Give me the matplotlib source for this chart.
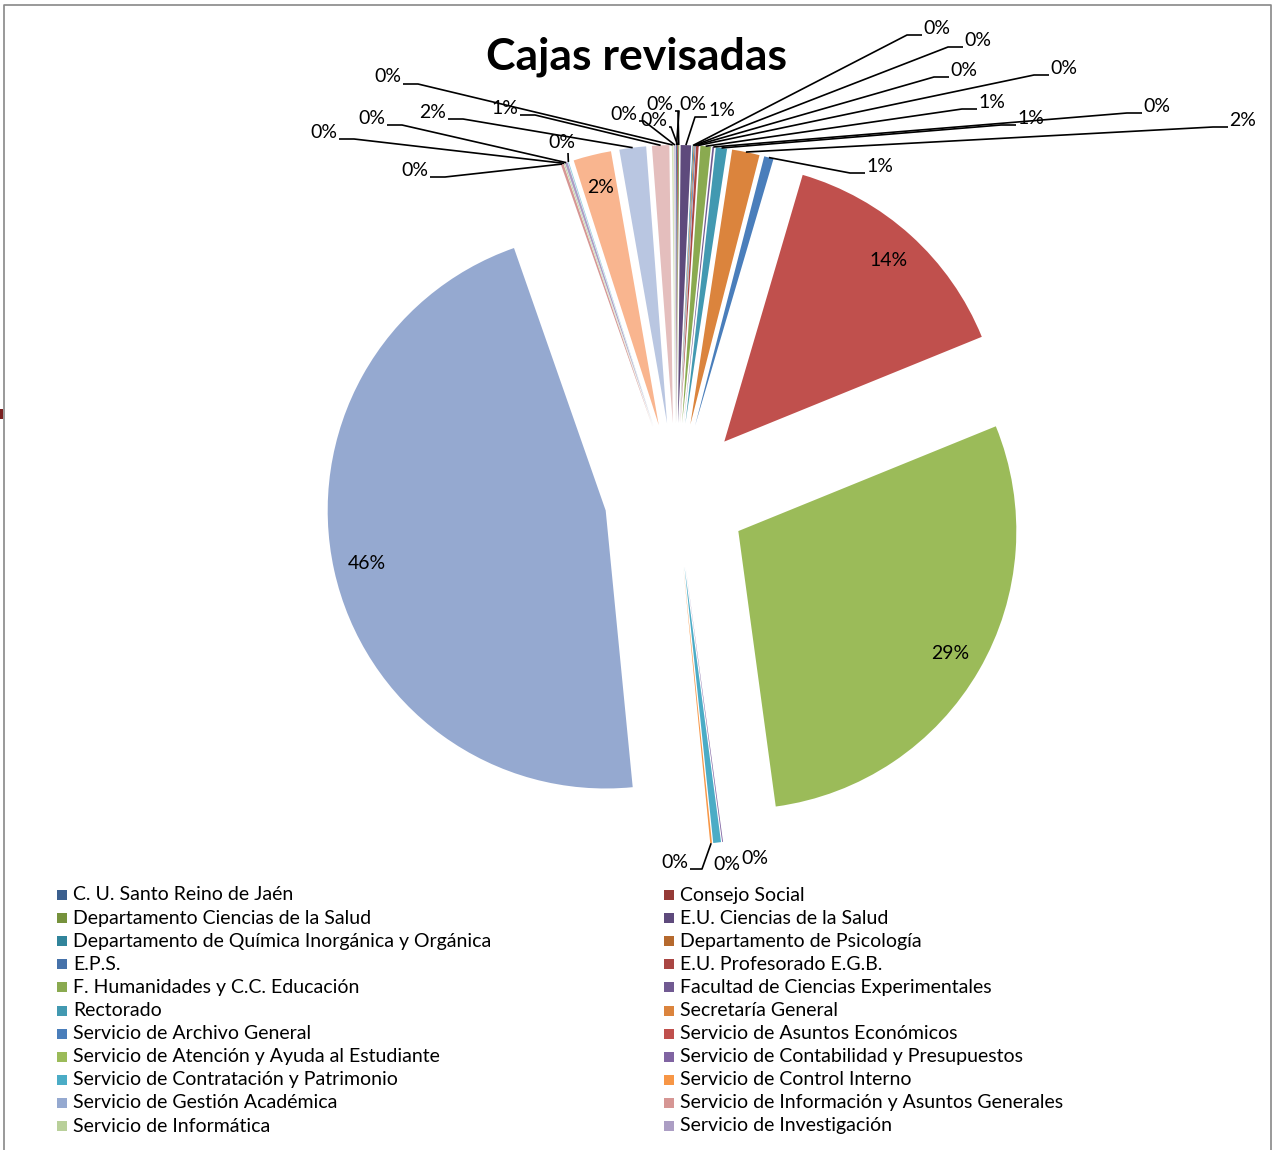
import numpy as np
import matplotlib.pyplot as plt
from matplotlib.patches import Rectangle

plt.rcParams['font.family'] = ['Lato', 'DejaVu Sans']

W, H = 1275, 1150

# share of boxes reviewed per unit (%), clockwise from 12 o'clock
cajas = [0.05, 0.05, 0.05, 0.6, 0.05, 0.05, 0.05, 0.15, 0.6, 0.1, 0.65, 1.6, 0.55,
         14.3, 29.0, 0.05, 0.45, 0.1, 46.2,
         0.15, 0.05, 0.15, 0.05, 2.2, 1.55, 1.0, 0.1, 0.1]

unidades = [
    'C. U. Santo Reino de Jaén', 'Consejo Social',
    'Departamento Ciencias de la Salud', 'E.U. Ciencias de la Salud',
    'Departamento de Química Inorgánica y Orgánica', 'Departamento de Psicología',
    'E.P.S.', 'E.U. Profesorado E.G.B.',
    'F. Humanidades y C.C. Educación', 'Facultad de Ciencias Experimentales',
    'Rectorado', 'Secretaría General',
    'Servicio de Archivo General', 'Servicio de Asuntos Económicos',
    'Servicio de Atención y Ayuda al Estudiante', 'Servicio de Contabilidad y Presupuestos',
    'Servicio de Contratación y Patrimonio', 'Servicio de Control Interno',
    'Servicio de Gestión Académica', 'Servicio de Información y Asuntos Generales',
    'Servicio de Informática', 'Servicio de Investigación',
]

colores = ['#3b5f8e', '#953a36', '#76923c', '#5e4a7c', '#31849b', '#b5692e',
           '#4672aa', '#aa4643', '#8aaa50', '#715a92', '#4299b1', '#db843d',
           '#4a7ebb', '#c0504d', '#9bbb59', '#8064a2', '#4bacc6', '#f79646',
           '#95a9d0', '#d69694', '#b9d09a', '#ac9ec4', '#93cddd', '#f9b58f',
           '#b9c6e1', '#e4bebd', '#d7e4bd', '#ccc1da']

# where each percentage label sits and how its leader line attaches
# side: R = line meets the left edge, L = right edge, B = below, N = no line, I = inside
etiquetas = [
    (660, 104, 'L', 4), (654, 120, 'L', 2), (693, 104, 'R', 0), (722, 110, 'R', 12),
    (937, 28, 'R', 15), (978, 40, 'R', 15), (964, 70, 'R', 15), (1064, 68, 'R', 15),
    (992, 102, 'R', 15), (1157, 106, 'R', 15), (1031, 118, 'R', 15), (1243, 120, 'R', 15),
    (880, 166, 'R', 15),
    (0, 0, 'I', 0), (0, 0, 'I', 0), (755, 858, 'N', 0), (727, 864, 'N', 0), (675, 862, 'L', 12),
    (0, 0, 'I', 0),
    (415, 170, 'L', 15), (324, 132, 'L', 15), (372, 118, 'L', 15), (562, 143, 'B', 0),
    (0, 0, 'I', 0), (433, 112, 'L', 15), (505, 108, 'L', 15), (388, 77, 'L', 15), (624, 114, 'L', 5),
]

fig = plt.figure(figsize=(W / 100, H / 100), dpi=100)
ax = fig.add_axes([0, 0, 1, 1])

cx, cy, r, gap = 676, 495, 278, 72
wedges, _ = ax.pie(cajas, colors=colores, radius=r, center=(cx, H - cy),
                   explode=[gap] * len(cajas), startangle=90, counterclock=False,
                   wedgeprops=dict(linewidth=0), frame=False)
ax.set_xlim(0, W)
ax.set_ylim(0, H)
ax.set_aspect('equal')
ax.axis('off')

total = sum(cajas)
hw = 13
for w, v, (lx, ly, side, stub) in zip(wedges, cajas, etiquetas):
    txt = f'{v / total * 100:.0f}%'
    mid = np.radians((w.theta1 + w.theta2) / 2)
    wx, wy = w.center
    if side == 'I':
        d = 0.88 * r
        ax.text(wx + d * np.cos(mid), wy + d * np.sin(mid), txt, fontsize=14,
                ha='center', va='center', color='black')
        continue
    ax.text(lx, H - ly, txt, fontsize=14, ha='center', va='center', color='black')
    ancla = (wx + r * np.cos(mid), wy + r * np.sin(mid))
    if side == 'R':
        fin = (lx - hw - 2, H - (ly + 7))
        codo = (fin[0] - stub, fin[1])
    elif side == 'L':
        fin = (lx + hw + 2, H - (ly + 7))
        codo = (fin[0] + stub, fin[1])
    elif side == 'B':
        fin = (lx + 6, H - (ly + 10))
        codo = fin
    else:
        continue
    ax.plot([ancla[0], codo[0], fin[0]], [ancla[1], codo[1], fin[1]],
            color='black', lw=1.2, solid_capstyle='butt')

ax.text(637, H - 57, 'Cajas revisadas', fontsize=32, fontweight='bold',
        ha='center', va='center')

# legend, two columns filled row by row
for i, nombre in enumerate(unidades):
    fila, col = divmod(i, 2)
    x0 = [57, 664][col]
    y0 = 895 + fila * 23.1
    ax.add_patch(Rectangle((x0, H - y0 - 5), 10, 10, facecolor=colores[i], edgecolor='none'))
    ax.text(x0 + 16, H - y0, nombre, fontsize=14, ha='left', va='center')

# chart frame
ax.plot([3.5, 3.5, 1270.5, 1270.5], [0, H - 4.5, H - 4.5, 0], color='#888888', lw=1.2)
ax.add_patch(Rectangle((0, H - 419), 3, 10, facecolor='#7a2020', edgecolor='none'))

fig.savefig('out.png', dpi=100)
